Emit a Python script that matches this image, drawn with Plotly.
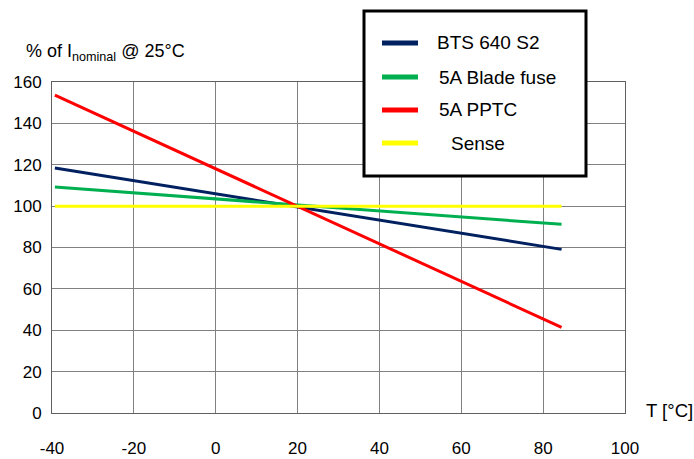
import plotly.graph_objects as go

# Data
temperature = [-39.3, 84.5]
bts640_s2 = [118.4, 79.1]
blade_fuse_5a = [109.2, 91.2]
pptc_5a = [153.7, 41.4]
sense = [100.0, 100.0]

series_names = ["BTS 640 S2", "5A Blade fuse", "5A PPTC", "Sense"]
series_values = [bts640_s2, blade_fuse_5a, pptc_5a, sense]
series_colors = ["#002060", "#00B050", "#FF0000", "#FFFF00"]

x_ticks = [-40, -20, 0, 20, 40, 60, 80, 100]
y_ticks = [0, 20, 40, 60, 80, 100, 120, 140, 160]

FONT = "Liberation Sans, Arial, sans-serif"
W, H = 694, 459
L, R, T, B = 52, 69, 82, 46
PW, PH = W - L - R, H - T - B


def px_x(p):
    return (p - L) / PW


def px_y(p):
    return (H - B - p) / PH


fig = go.Figure()
for name, vals, col in zip(series_names, series_values, series_colors):
    fig.add_trace(go.Scatter(x=temperature, y=vals, mode="lines", name=name,
                             line=dict(color=col, width=3), showlegend=False))

fig.update_layout(
    width=W, height=H,
    margin=dict(l=L, r=R, t=T, b=B, pad=0, autoexpand=False),
    paper_bgcolor="white", plot_bgcolor="white",
    font=dict(family=FONT, size=17, color="black"),
    showlegend=False,
)
fig.update_xaxes(range=[-40, 100], tickvals=x_ticks, ticktext=[str(v) for v in x_ticks],
                 showgrid=True, gridcolor="#808080", gridwidth=1,
                 showline=True, linecolor="#606060", linewidth=1, mirror=True,
                 ticks="outside", ticklen=20, tickcolor="rgba(0,0,0,0)",
                 zeroline=False, tickfont=dict(size=17), automargin=False)
fig.update_yaxes(range=[0, 160], tickvals=y_ticks, ticktext=[str(v) for v in y_ticks],
                 showgrid=True, gridcolor="#808080", gridwidth=1,
                 showline=True, linecolor="#606060", linewidth=1, mirror=True,
                 ticks="outside", ticklen=6, tickcolor="rgba(0,0,0,0)",
                 zeroline=False, tickfont=dict(size=17), automargin=False)

# Axis titles
fig.add_annotation(xref="paper", yref="paper", x=px_x(24), y=px_y(52),
                   xanchor="left", yanchor="middle", showarrow=False,
                   text="% of I<sub>nominal</sub> @ 25°C", font=dict(size=18))
fig.add_annotation(xref="paper", yref="paper", x=px_x(644), y=px_y(410),
                   xanchor="left", yanchor="middle", showarrow=False,
                   text="T [°C]", font=dict(size=18.5))

# Legend box
fig.add_shape(type="rect", xref="paper", yref="paper",
              x0=px_x(364), x1=px_x(586), y0=px_y(176), y1=px_y(11),
              line=dict(color="black", width=3), fillcolor="white", layer="above")
leg_y = [43, 77, 110, 143]
leg_tx = [435, 437, 437, 449]
for name, col, yy, tx in zip(series_names, series_colors, leg_y, leg_tx):
    fig.add_shape(type="line", xref="paper", yref="paper",
                  x0=px_x(382), x1=px_x(418), y0=px_y(yy), y1=px_y(yy),
                  line=dict(color=col, width=5), layer="above")
    fig.add_annotation(xref="paper", yref="paper", x=px_x(tx), y=px_y(yy),
                       xanchor="left", yanchor="middle", showarrow=False,
                       text=name, font=dict(size=19))

fig.write_html("out.html")
